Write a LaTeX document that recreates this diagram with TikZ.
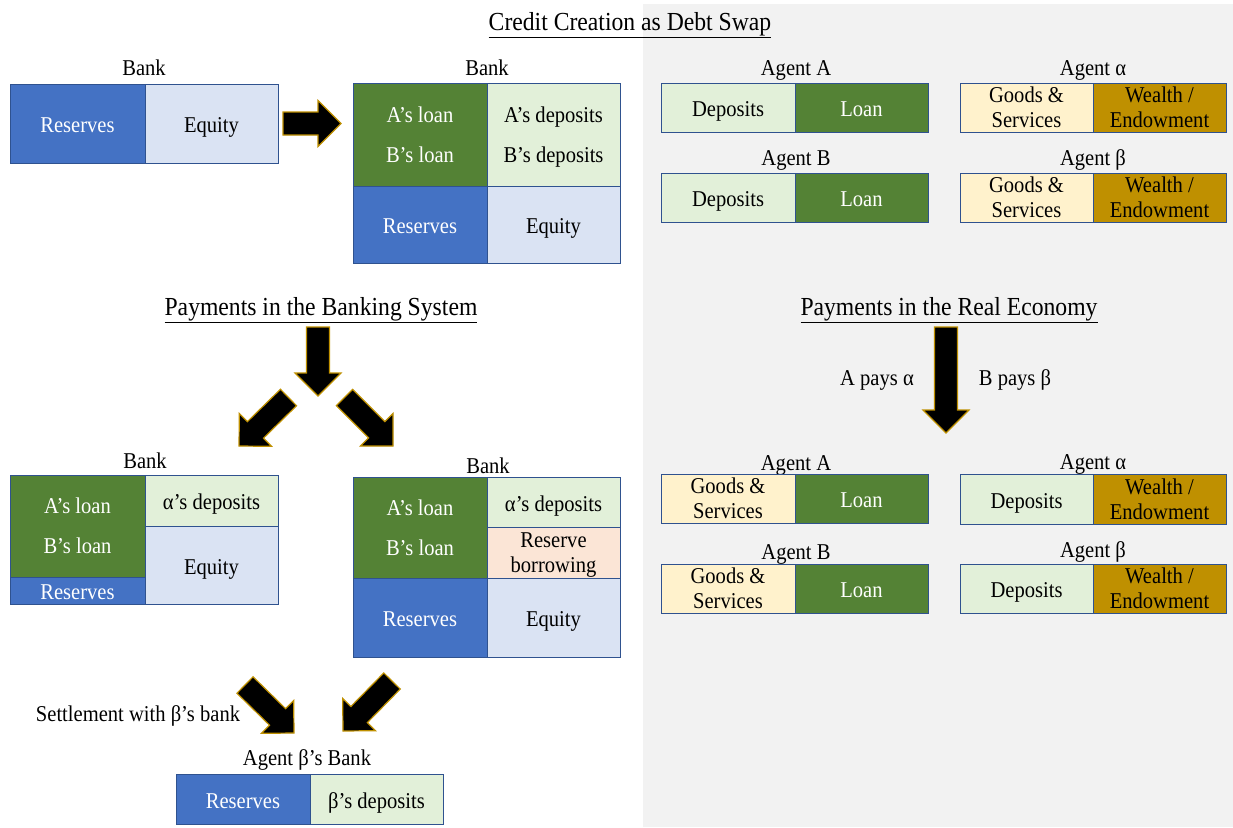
\documentclass[tikz,border=0pt]{standalone}
\usepackage{fontspec}
\setmainfont{Liberation Serif}[FakeStretch=0.91]
\usepackage{xcolor}
\definecolor{resblue}{HTML}{4472C4}
\definecolor{eqblue}{HTML}{DAE3F3}
\definecolor{loangreen}{HTML}{548235}
\definecolor{depgreen}{HTML}{E2F0D9}
\definecolor{goods}{HTML}{FFF2CC}
\definecolor{wealth}{HTML}{BF9000}
\definecolor{borrow}{HTML}{FBE5D6}
\definecolor{edge}{HTML}{2F528F}
\definecolor{panel}{HTML}{F2F2F2}
\usetikzlibrary{arrows.meta, positioning, calc}

\tikzset{
  cell/.style args={#1/#2}{draw=edge, line width=1pt, inner sep=0pt, outer sep=0pt,
    anchor=north west, minimum width=#1pt, minimum height=#2pt, align=center,
    text height=18pt, text depth=0pt},
  two/.style={text height=, text depth=-4pt},
  lbl/.style={inner sep=0pt, text height=15pt, text depth=0pt},
  heading/.style={inner sep=0pt, text height=17.2pt, text depth=0pt,
    font=\fontsize{26}{30}\selectfont},
  blockarrow/.style={fill=black, draw=wealth, line width=1.2pt, line join=miter},
}

% block arrow from tail #1 to tip #2
\newcommand{\fatarrow}[2]{%
  \coordinate (hb) at ($(#2)!23pt!(#1)$);
  \draw[blockarrow] ($(#1)!11.5pt!90:(#2)$) -- ($(hb)!11.5pt!90:(#2)$)
    -- ($(hb)!23pt!90:(#2)$) -- (#2) -- ($(hb)!23pt!-90:(#2)$)
    -- ($(hb)!11.5pt!-90:(#2)$) -- ($(#1)!11.5pt!-90:(#2)$) -- cycle;
}

\begin{document}
\begin{tikzpicture}[x=1pt, y=-1pt, font=\fontsize{22.6}{25}\selectfont]
  \useasboundingbox (0,0) rectangle (1233,827);
  \fill[white] (0,0) rectangle (1233,827);
  \fill[panel] (643,4) rectangle (1233,827);

  % titles
  \node[heading] (title1) at (630,22) {\underline{Credit Creation as Debt Swap}};
  \node[heading] (title2) at (321,307) {\underline{Payments in the Banking System}};
  \node[heading] (title3) at (949,307) {\underline{Payments in the Real Economy}};

  % bank before lending
  \node[lbl] (bank1) at (144,68) {Bank};
  \node[cell=135/79, fill=resblue, text=white] (res1) at (10,84) {Reserves};
  \node[cell=133/79, fill=eqblue] (eq1) at (res1.north east) {Equity};

  % bank after lending
  \node[lbl] (bank2) at (487,68) {Bank};
  \node[cell=134/103, two, fill=loangreen, text=white] (loans1) at (353,83) {A’s loan\\[15pt]B’s loan};
  \node[cell=133/103, two, fill=depgreen] (deps1) at (loans1.north east) {A’s deposits\\[15pt]B’s deposits};
  \node[cell=134/77, fill=resblue, text=white] (res2) at (loans1.south west) {Reserves};
  \node[cell=133/77, fill=eqblue] (eq2) at (res2.north east) {Equity};

  \coordinate (c1) at (283,123.5);
  \coordinate (c2) at (341,123.5);
  \fatarrow{c1}{c2}

  % agents after lending
  \node[lbl] (agA) at (796,68) {Agent A};
  \node[cell=134/49, fill=depgreen] (depA) at (661,83) {Deposits};
  \node[cell=133/49, fill=loangreen, text=white] (loanA) at (depA.north east) {Loan};
  \node[lbl] (agAl) at (1093,68) {Agent α};
  \node[cell=133/49, two, fill=goods] (gsAl) at (960,83) {Goods \&\\Services};
  \node[cell=133/49, two, fill=wealth] (wAl) at (gsAl.north east) {Wealth /\\Endowment};
  \node[lbl] (agB) at (796,158) {Agent B};
  \node[cell=134/49, fill=depgreen] (depB) at (661,173) {Deposits};
  \node[cell=133/49, fill=loangreen, text=white] (loanB) at (depB.north east) {Loan};
  \node[lbl] (agBe) at (1093,158) {Agent β};
  \node[cell=133/49, two, fill=goods] (gsBe) at (960,173) {Goods \&\\Services};
  \node[cell=133/49, two, fill=wealth] (wBe) at (gsBe.north east) {Wealth /\\Endowment};

  % banking system arrows
  \coordinate (s1) at (318,327);
  \coordinate (s2) at (318,396);
  \fatarrow{s1}{s2}
  \coordinate (l1) at (288.5,397.5);
  \coordinate (l2) at (239,446);
  \fatarrow{l1}{l2}
  \coordinate (r1) at (344.5,397.5);
  \coordinate (r2) at (393,446);
  \fatarrow{r1}{r2}

  % same bank
  \node[lbl] (bank3) at (145,461) {Bank};
  \node[cell=135/102, two, fill=loangreen, text=white] (loans2) at (10,475) {A’s loan\\[15pt]B’s loan};
  \node[cell=135/27, fill=resblue, text=white] (res3) at (loans2.south west) {Reserves};
  \node[cell=133/51, fill=depgreen] (deps2) at (loans2.north east) {α’s deposits};
  \node[cell=133/78, fill=eqblue] (eq3) at (deps2.south west) {Equity};

  % borrowing bank
  \node[lbl] (bank4) at (488,466) {Bank};
  \node[cell=134/101, two, fill=loangreen, text=white] (loans3) at (353,477) {A’s loan\\[15pt]B’s loan};
  \node[cell=134/79, fill=resblue, text=white] (res4) at (loans3.south west) {Reserves};
  \node[cell=133/50, fill=depgreen] (deps3) at (loans3.north east) {α’s deposits};
  \node[cell=133/51, two, fill=borrow] (borr) at (deps3.south west) {Reserve\\borrowing};
  \node[cell=133/79, fill=eqblue] (eq4) at (borr.south west) {Equity};

  % settlement
  \coordinate (b1) at (245,685);
  \coordinate (b2) at (294,733);
  \fatarrow{b1}{b2}
  \coordinate (b3) at (392,681);
  \coordinate (b4) at (343,731);
  \fatarrow{b3}{b4}
  \node[lbl] (settle) at (138,714) {Settlement with β’s bank};
  \node[lbl] (bankBe) at (307,758) {Agent β’s Bank};
  \node[cell=134/50, fill=resblue, text=white] (res5) at (176,774) {Reserves};
  \node[cell=133/50, fill=depgreen] (depBe) at (res5.north east) {β’s deposits};

  % real economy
  \coordinate (p1) at (946,327);
  \coordinate (p2) at (946,433);
  \fatarrow{p1}{p2}
  \node[lbl] (payA) at (877,378) {A pays α};
  \node[lbl] (payB) at (1015,378) {B pays β};

  \node[lbl] (agA2) at (796,463) {Agent A};
  \node[cell=134/49, two, fill=goods] (gsA2) at (661,474) {Goods \&\\Services};
  \node[cell=133/49, fill=loangreen, text=white] (loanA2) at (gsA2.north east) {Loan};
  \node[lbl] (agAl2) at (1093,462) {Agent α};
  \node[cell=133/50, fill=depgreen] (depAl2) at (960,474) {Deposits};
  \node[cell=133/50, two, fill=wealth] (wAl2) at (depAl2.north east) {Wealth /\\Endowment};
  \node[lbl] (agB2) at (796,552) {Agent B};
  \node[cell=134/49, two, fill=goods] (gsB2) at (661,564) {Goods \&\\Services};
  \node[cell=133/49, fill=loangreen, text=white] (loanB2) at (gsB2.north east) {Loan};
  \node[lbl] (agBe2) at (1093,550) {Agent β};
  \node[cell=133/49, fill=depgreen] (depBe2) at (960,564) {Deposits};
  \node[cell=133/49, two, fill=wealth] (wBe2) at (depBe2.north east) {Wealth /\\Endowment};
\end{tikzpicture}
\end{document}
